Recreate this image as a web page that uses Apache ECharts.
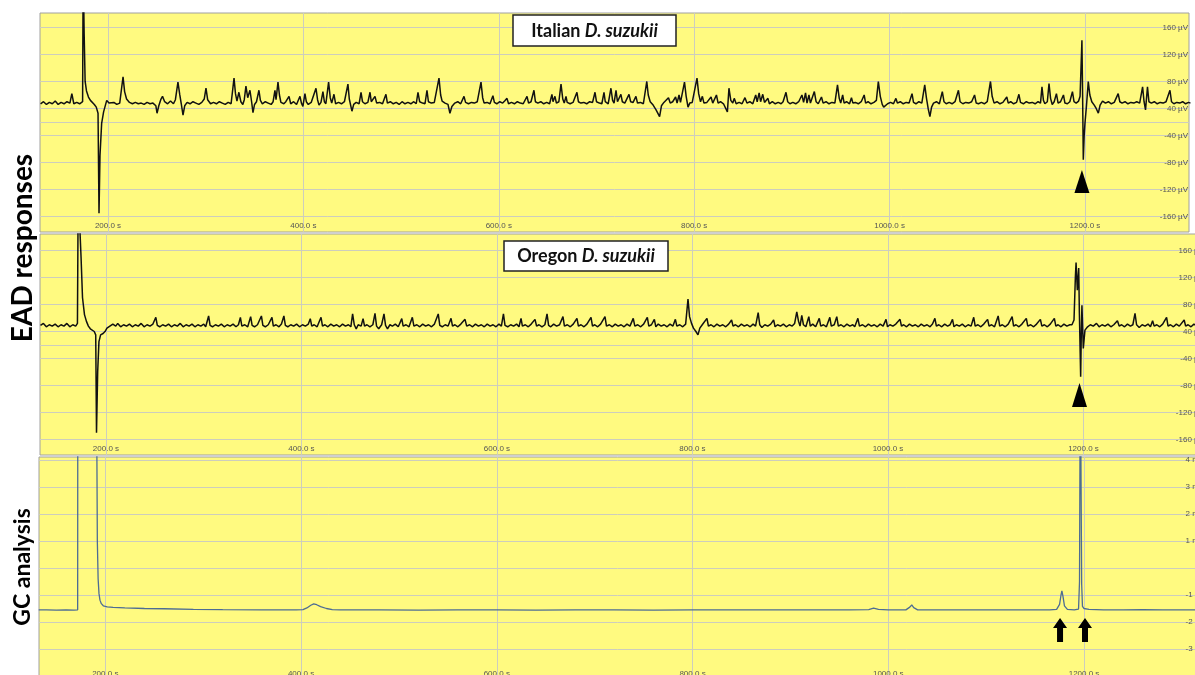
<!DOCTYPE html>
<html>
<head>
<meta charset="utf-8">
<script src="https://cdn.jsdelivr.net/npm/echarts@6.0.0/dist/echarts.min.js"></script>
<style>
html,body{margin:0;padding:0;background:#fff;}
#chart{width:1195px;height:675px;}
</style>
</head>
<body>
<div id="chart"></div>
<script>
// ---- data (time in s, EAD signal in display µV units, GC in mV) ----
const timeTicks = [200, 400, 600, 800, 1000, 1200];
const eadGridValues = [-120, -80, -40, 0, 20, 40, 80, 120, 160];
const eadLabelValues = [-120, -80, -40, 0, 40, 80, 120, 160];
const gcGridValues = [-3, -2, -1, 0, 1, 2, 3, 4];
const gcLabelValues = [-3, -2, -1, 1, 2, 3, 4];

const italianTrace = [[131,47],[134,50],[137,46],[140,49],[143,47],[146,51],[149,46],[152,49],[155,47],[158,50],[161,48],[163,62],[165,47],[168,49],[171,47],[174,50],[174.6,250],[175.6,150],[176.6,80],[178,66],[180,57],[182,52],[184,50],[186,46],[188,42],[189.8,33],[190.8,-115],[191.8,-30],[193.5,18],[195.5,35],[198.7,52],[201,48],[203,47],[206,49],[209,46],[212,48],[214,50],[215.4,87],[217,65],[219,54],[222,49],[225,47],[228,49],[231,47],[234,48],[237,46],[240,49],[243,47],[246,48],[249,44],[250.2,33],[252,44],[254,53],[255.8,58],[258,50],[261,47],[264,51],[267,47],[269,53],[271.6,79],[273.5,60],[275,47],[276.8,30],[278.5,44],[281,49],[284,47],[287,50],[290,48],[293,46],[296,49],[298.5,54],[300.3,70],[302,53],[305,47],[308,49],[311,47],[314,50],[317,48],[320,46],[323,49],[326,47],[329,85],[330.5,62],[332,51],[334,64],[336,50],[338,46],[339.5,53],[341.2,73],[343,56],[345.3,67],[347,50],[348.4,34],[350,46],[352,50],[354.5,67],[356,52],[358,47],[361,50],[364,48],[367,46],[369,50],[370.9,67],[372,53],[374,79],[375.5,60],[377,49],[380,47],[382,50],[385.3,58],[387,47],[390,50],[393,46],[396.5,58],[398,48],[399.5,43],[401.6,62],[403,50],[405,46],[408,49],[410,47],[412.9,70],[414.5,53],[416,45],[418,49],[420,65],[421.5,50],[423,47],[425.8,79],[427.5,56],[429,48],[431.3,61],[433,47],[436,49],[439,47],[442,50],[445.6,76],[447,54],[449.7,36],[451.5,46],[454,49],[457,47],[459,64],[460.5,50],[463,47],[466,49],[468.2,64],[469.5,50],[471,48],[473.3,58],[475,48],[478,49],[481,47],[484.5,61],[486,48],[489,50],[492,47],[495,49],[498,46],[501,50],[504,47],[507,49],[510,47],[513,50],[515.5,47],[517.3,64],[519,50],[522,48],[524.5,47],[526.5,67],[528,50],[531,48],[534,49],[536,50],[538.8,85],[540.5,60],[542,51],[545,48],[548,46],[550,33],[552,43],[555,48],[558,50],[561,47],[564.4,58],[566,49],[569,47],[572,49],[575,48],[578,50],[580,49],[581.8,79],[583.5,56],[585,48],[588,49],[591,47],[594,59],[595.5,49],[598,47],[601,50],[604,48],[606,51],[608.4,55],[610,47],[613,49],[616,47],[619,50],[622,48],[625,47],[628.9,58],[630.5,48],[633,50],[636,67],[637.5,50],[640,48],[643,50],[646,47],[649,49],[652,47],[654.4,61],[655.5,50],[657.5,58],[659,48],[661.5,50],[663.7,76],[665.5,54],[667,48],[668.8,58],[670,49],[673,47],[676,49],[678,48],[680,64],[681.5,50],[684,48],[687,49],[690,47],[693,50],[696,49],[698.5,64],[700,50],[703,48],[705.5,47],[707.7,64],[709,50],[712,47],[714.8,70],[716.5,52],[718,48],[720,67],[721.5,50],[723,49],[725,61],[726.5,50],[729,48],[731,50],[733.3,61],[735,50],[737.5,49],[740.4,58],[742,48],[745,49],[748,47],[751.5,80],[753,60],[755,50],[758,45],[761,38],[764.6,28],[766.5,44],[769,49],[771,47],[773.7,56],[775.5,48],[778,50],[781,57],[782.5,48],[784.5,60],[786,49],[788,47],[790.1,79],[791.8,58],[793.7,42],[795.5,48],[798,49],[800,47],[802.9,85],[804.6,62],[806.5,50],[808.4,58],[810,48],[813,49],[815,47],[817.3,57],[819,48],[822.8,60],[824.5,48],[827,50],[830,47],[832,49],[834,35],[835.6,70],[837.5,52],[839.5,48],[841,55],[843,47],[846,49],[849,47],[852,56],[854,48],[857,50],[860,47],[863,60],[864.5,50],[866.5,63],[868,50],[870.2,61],[872,49],[875.5,55],[877,47],[880,50],[883,47],[886,49],[889,47],[891,50],[894,64],[895.7,50],[898,47],[901,49],[904,47],[907,50],[910.3,60],[912,49],[914,63],[915.5,48],[917.5,60],[919,48],[921,47],[923,65],[924.8,50],[927,47],[930.3,57],[932,48],[935,50],[938,47],[941,49],[944,48],[946.7,75],[948.5,55],[950,48],[952,60],[953.5,48],[956,50],[959,47],[961,56],[962.5,48],[965,49],[968,47],[971,50],[974,60],[975.5,48],[978,50],[981,47],[984,49],[986.5,52],[988.5,80],[990.5,58],[992.5,46],[994,42],[996,40],[998,47],[1001,49],[1004,47],[1006.5,55],[1008,48],[1011,50],[1014,47],[1017,49],[1020,48],[1023,62],[1024.5,49],[1027,47],[1030,50],[1033,48],[1036,75],[1037.8,55],[1039.5,40],[1041.3,28],[1043,42],[1045,48],[1048,50],[1051,47],[1054,65],[1055.7,50],[1058,47],[1061,49],[1064,47],[1067,50],[1070.5,67],[1072.2,50],[1075,47],[1078,49],[1081,48],[1084,50],[1087,60],[1088.7,48],[1091,47],[1094,49],[1097,47],[1100,50],[1103.3,80],[1105,58],[1107,48],[1110,50],[1113,47],[1116,49],[1120,57],[1121.5,48],[1124,50],[1127,47],[1130,49],[1132.4,61],[1134,49],[1137,47],[1140,50],[1143,48],[1146,49],[1149,47],[1152,50],[1154.5,48],[1156,72],[1157.5,52],[1159,47],[1161.5,50],[1163.2,77],[1164.8,55],[1166.5,46],[1168.5,50],[1170.8,62],[1172.5,48],[1175,50],[1178,60],[1179.5,48],[1182,47],[1184.5,50],[1187.2,65],[1188.8,50],[1191,48],[1193.5,51],[1195,58],[1196.9,141],[1197.6,60],[1198.3,-36],[1199.2,0],[1200,18],[1201.5,43],[1203.4,80],[1205,60],[1207,50],[1209.5,45],[1211.5,40],[1213.7,33],[1215.5,45],[1218,51],[1221,48],[1224,50],[1227,47],[1230,49],[1234,62],[1235.7,50],[1238,48],[1241,50],[1244,47],[1247,49],[1250,48],[1253,50],[1256,48],[1259,72],[1260.5,50],[1262,38],[1264,72],[1265.5,50],[1268,48],[1271,50],[1274,47],[1277,49],[1280,48],[1283,50],[1287,67],[1288.6,50],[1291,47],[1294,49],[1297,48],[1300,50],[1303,47],[1306,49],[1308,48]];

const oregonTrace = [[133,49],[136,52],[139,47],[142,50],[145,48],[148,51],[151,47],[154,50],[157,48],[160,52],[163,47],[166,50],[169,48],[170.8,52],[171.6,250],[173.4,250],[174.5,150],[176,90],[178,65],[180,55],[182,48],[184,44],[186,42],[188,40],[189.5,35],[190.3,-110],[191.5,-20],[192.8,25],[194.5,35],[197,37],[199,40],[201,45],[204,48],[207,51],[210,48],[212,52],[215,47],[218,50],[221,48],[224,51],[227,47],[230,50],[233,48],[236,52],[239,47],[242,50],[245,48],[248,51],[251,61],[252.5,49],[255,47],[258,50],[261,48],[264,51],[267,47],[270,50],[273,48],[276,52],[279,47],[282,50],[285,48],[288,51],[291,47],[294,50],[297,48],[300,51],[302,47],[305,63],[306.5,49],[309,47],[312,50],[315,48],[318,51],[321,47],[324,50],[327,48],[330,51],[333,47],[335.5,50],[337.5,61],[339,48],[342,50],[345,47],[348,62],[349.5,49],[352,47],[355,50],[357,48],[359,63],[360.5,49],[363,47],[366,50],[369.8,61],[371.2,48],[374,50],[377,47],[379.5,51],[382,63],[383.5,49],[386,47],[389,50],[392,48],[395,51],[398,47],[401,50],[404,48],[407,51],[409,59],[410.5,48],[413,50],[416,47],[420,61],[421.5,48],[424,50],[427,47],[430,51],[433,48],[436,50],[439,47],[442,51],[445,48],[448,50],[450.5,47],[452.3,66],[454,50],[456,44],[458,50],[461,48],[463,59],[464.5,48],[467,50],[470,47],[473,50],[475.2,67],[476.8,48],[479,44],[482,50],[484.4,66],[486,49],[488,44],[490.5,50],[493,48],[496,51],[499,47],[502.6,59],[504,48],[507,50],[510,47],[513.4,61],[515,48],[518,50],[521,47],[524,51],[527,48],[530,50],[533,47],[536,51],[539.9,66],[541.5,49],[544,47],[547,50],[550,48],[553,59.5],[554.5,48],[557,50],[560,47],[563,51],[567.3,58],[569,48],[572,50],[575,47],[578,51],[581,48],[584,50],[587,47],[590,51],[593,48],[596,50],[599,47],[602,51],[604.5,48],[606.6,66],[608.2,49],[611,47],[614,50],[617,48],[620,51],[622.5,47],[624.6,59.5],[626,48],[629,50],[632,47],[635,51],[638.9,58],[640.5,48],[643,50],[646,47],[649,50],[651.2,66],[652.8,49],[655,47],[658,51],[661,48],[664,50],[667.5,62],[669,48],[672,50],[675,47],[678,51],[681.8,59.5],[683.3,48],[686,50],[689,47],[692,51],[696.2,61],[697.7,48],[700,50],[703,47],[706,51],[710.5,62],[712,48],[715,50],[718,47],[721,51],[724,48],[727,50],[730,47],[733,51],[736,48],[739.4,59.5],[741,48],[744,50],[747,47],[750,51],[753.8,61],[755.3,48],[758,50],[761,58],[762.5,47],[765,51],[768,48],[771,50],[774,47],[777,51],[780,48],[782.5,58],[784,48],[787,50],[790,47],[793,51],[795.4,88],[797,62],[799,52],[801,45],[803.5,40],[805.6,35],[807.5,45],[810,50],[812,48],[814.8,59.5],[816.3,48],[819,50],[822,47],[825,51],[828,48],[831,50],[834,47],[837,51],[840,57],[841.5,48],[844,50],[847,47],[850,51],[853,48],[856,50],[859,47],[862,51],[864.5,48],[867.2,68],[868.8,50],[871,46],[874,50],[877,48],[880,51],[883,57],[884.5,47],[887,50],[890,48],[893,51],[896,47],[899,50],[902,48],[904.5,52],[906.7,69],[908.5,55],[910,48],[911.8,64],[913.5,50],[916,47],[919,62],[920.5,48],[923,51],[926,47],[929.7,59.5],[931.2,48],[934,50],[937,47],[940.5,61],[942,48],[945,50],[947.6,62],[949.2,48],[952,50],[955,47],[958,51],[961,48],[964,50],[966,47],[969.2,59.5],[970.8,48],[974,50],[977,47],[980,51],[983,48],[986,50],[989,47],[992,51],[995,48],[998,58],[999.5,47],[1002,50],[1005,48],[1008,51],[1012.3,58],[1013.8,48],[1016,50],[1019,47],[1022,51],[1025,48],[1028,50],[1031,47],[1034,51],[1037,48],[1040,50],[1043,47],[1045.5,51],[1048,59.5],[1049.5,48],[1052,50],[1055,47],[1058,51],[1061,48],[1063.5,50],[1066,58],[1067.5,47],[1070,50],[1073,48],[1076,51],[1079,47],[1082,50],[1085,48],[1087.7,61],[1089.2,48],[1092,50],[1095,47],[1098,51],[1101.9,58],[1103.4,48],[1106,50],[1109,47],[1112.7,63],[1114.3,48],[1117,50],[1120,47],[1123,51],[1127,62],[1128.5,48],[1131,50],[1134,47],[1137,51],[1141.5,59.5],[1143,48],[1146,50],[1149,47],[1152,51],[1155.9,58],[1157.4,48],[1160,50],[1163,47],[1166,51],[1170.2,59.5],[1171.7,48],[1174,50],[1177,47],[1180,51],[1183,48],[1186,50],[1188.2,50],[1190.3,57],[1191.7,121],[1192.4,142],[1193.7,101],[1195.1,134],[1195.8,67],[1197.1,-27],[1197.8,42],[1198.4,79],[1199.8,15],[1201.5,42],[1204.2,47],[1207,50],[1210,48],[1213.3,52],[1216,47],[1219,50],[1222,48],[1225,51],[1228,47],[1231,50],[1234.7,56],[1236.5,48],[1239,50],[1242,47],[1245,51],[1248,48],[1250.5,50],[1252.7,67],[1254.3,50],[1257,46],[1260,50],[1263,48],[1266,51],[1268.5,47],[1270.7,56],[1272.3,48],[1275,50],[1278,47],[1281,51],[1285,61],[1286.5,48],[1289,50],[1292,47],[1295,51],[1298,48],[1300,50],[1303,57],[1304.5,48],[1307,50],[1310,47],[1313,51],[1316,48],[1320,50],[1325,49]];

const gcTrace = [[132,-1.55],[140,-1.55],[150,-1.56],[160,-1.55],[168,-1.56],[171.8,-1.55],[172.3,30],[190.9,30],[191.4,4.5],[191.9,1.0],[192.7,-0.4],[193.6,-0.95],[194.6,-1.19],[196,-1.32],[198,-1.4],[202,-1.44],[208,-1.46],[220,-1.48],[240,-1.5],[260,-1.51],[290,-1.53],[320,-1.54],[360,-1.55],[395,-1.55],[402,-1.54],[406,-1.48],[410,-1.38],[413,-1.33],[416,-1.36],[420,-1.43],[426,-1.5],[432,-1.54],[440,-1.55],[480,-1.55],[520,-1.56],[560,-1.55],[600,-1.55],[640,-1.56],[680,-1.55],[720,-1.55],[760,-1.56],[800,-1.55],[840,-1.55],[880,-1.55],[920,-1.55],[960,-1.55],[980,-1.54],[985,-1.49],[990,-1.53],[1000,-1.55],[1018,-1.55],[1022,-1.45],[1024,-1.37],[1026,-1.47],[1030,-1.55],[1060,-1.55],[1100,-1.55],[1140,-1.55],[1165,-1.55],[1172,-1.53],[1175,-1.35],[1176.5,-1.0],[1177.4,-0.85],[1178.5,-1.05],[1180,-1.4],[1183,-1.53],[1190,-1.55],[1194.4,-1.52],[1195.4,-0.5],[1196.2,8],[1196.9,8],[1197.6,-0.6],[1198.4,-1.42],[1200,-1.5],[1205,-1.53],[1220,-1.55],[1240,-1.55],[1260,-1.54],[1280,-1.55],[1300,-1.55],[1325,-1.55]];

const italianMarks = [[1196.9, -68]];
const oregonMarks = [[1195.9, -54]];
const gcMarks = [[1175.5, -2.3], [1201.0, -2.3]];

// ---- styles ----
const panelYellow = '#fffa80';
const gridGrey = '#cdcdbd';
const labelGrey = '#555';
const labelFont = 'Liberation Sans';

function xAxisFor(gi, min, max) {
  return {
    gridIndex: gi, type: 'value', min: min, max: max,
    axisLine: {show: false},
    axisTick: {show: false, customValues: timeTicks},
    axisLabel: {inside: true, customValues: timeTicks, margin: 2, fontSize: 8, color: labelGrey, fontFamily: labelFont,
      formatter: v => v.toFixed(1) + ' s'},
    splitLine: {show: true, lineStyle: {color: gridGrey, width: 1}}
  };
}
function eadLabel(v) { return (v >= 40 ? v : v - 40) + ' µV'; }

const gridBase = {show: true, backgroundColor: panelYellow, borderColor: '#a0a0a0', borderWidth: 1, containLabel: false, outerBoundsMode: 'none'};

const option = {
  animation: false,
  backgroundColor: '#ffffff',
  grid: [
    Object.assign({left: 40, top: 13, width: 1149, height: 219}, gridBase),
    Object.assign({left: 40, top: 234, width: 1165, height: 221}, gridBase),
    Object.assign({left: 39, top: 457, width: 1166, height: 223}, gridBase)
  ],
  xAxis: [
    xAxisFor(0, 130.4, 1306.5),
    xAxisFor(1, 132.5, 1324.3),
    xAxisFor(2, 132.3, 1323.6)
  ],
  yAxis: [
    {gridIndex: 0, type: 'value', position: 'right', min: -142.9, max: 181.4,
      axisLine: {show: false}, axisTick: {show: false, customValues: eadGridValues},
      axisLabel: {inside: true, customValues: eadLabelValues, margin: 1, fontSize: 8, color: labelGrey, fontFamily: labelFont, formatter: eadLabel},
      splitLine: {show: true, lineStyle: {color: gridGrey, width: 1}}},
    {gridIndex: 1, type: 'value', position: 'right', min: -142.9, max: 184.4,
      axisLine: {show: false}, axisTick: {show: false, customValues: eadGridValues},
      axisLabel: {inside: true, customValues: eadLabelValues, margin: 1, fontSize: 8, color: labelGrey, fontFamily: labelFont, formatter: eadLabel},
      splitLine: {show: true, lineStyle: {color: gridGrey, width: 1}}},
    {gridIndex: 2, type: 'value', position: 'right', min: -4.148, max: 4.111,
      axisLine: {show: false}, axisTick: {show: false, customValues: gcGridValues},
      axisLabel: {inside: true, customValues: gcLabelValues, margin: 19.5, align: 'left', fontSize: 8, color: labelGrey, fontFamily: labelFont,
        formatter: v => v + ' mV'},
      splitLine: {show: true, lineStyle: {color: gridGrey, width: 1}}}
  ],
  series: [
    {type: 'line', xAxisIndex: 0, yAxisIndex: 0, data: italianTrace, showSymbol: false, symbol: 'none',
      lineStyle: {color: '#111', width: 1.5}, clip: true,
      markPoint: {symbol: 'triangle', symbolSize: [15, 23], itemStyle: {color: '#000'}, label: {show: false},
        data: italianMarks.map(c => ({coord: c}))}},
    {type: 'line', xAxisIndex: 1, yAxisIndex: 1, data: oregonTrace, showSymbol: false, symbol: 'none',
      lineStyle: {color: '#111', width: 1.5}, clip: true,
      markPoint: {symbol: 'triangle', symbolSize: [15, 24], itemStyle: {color: '#000'}, label: {show: false},
        data: oregonMarks.map(c => ({coord: c}))}},
    {type: 'line', xAxisIndex: 2, yAxisIndex: 2, data: gcTrace, showSymbol: false, symbol: 'none',
      lineStyle: {color: '#4d6c93', width: 1.3}, clip: true,
      markPoint: {symbol: 'path://M7 0L14 10L10 10L10 24L4 24L4 10L0 10Z', symbolSize: [14, 24], itemStyle: {color: '#000'}, label: {show: false},
        data: gcMarks.map(c => ({coord: c}))}}
  ],
  graphic: [
    {type: 'text', x: 23, y: 248, rotation: Math.PI / 2, z: 100,
      style: {text: 'EAD responses', font: 'bold 28px Lato', fill: '#000', textAlign: 'center', textVerticalAlign: 'middle', align: 'center', verticalAlign: 'middle'}},
    {type: 'text', x: 23, y: 567, rotation: Math.PI / 2, z: 100,
      style: {text: 'GC analysis', font: 'bold 23px Lato', fill: '#000', textAlign: 'center', textVerticalAlign: 'middle', align: 'center', verticalAlign: 'middle'}},
    {type: 'rect', shape: {x: 513, y: 15, width: 163, height: 31}, z: 100, style: {fill: '#fff', stroke: '#222', lineWidth: 1.5}},
    {type: 'text', x: 594.5, y: 31, z: 101,
      style: {text: '{a|Italian }{b|D. suzukii}', textAlign: 'center', textVerticalAlign: 'middle', align: 'center', verticalAlign: 'middle',
        rich: {a: {fontFamily: 'Lato', fontWeight: 'bold', fontSize: 18, fill: '#111'},
               b: {fontFamily: 'Lato', fontWeight: 'bold', fontStyle: 'italic', fontSize: 18, fill: '#111'}}}},
    {type: 'rect', shape: {x: 504, y: 241, width: 164, height: 30}, z: 100, style: {fill: '#fff', stroke: '#222', lineWidth: 1.5}},
    {type: 'text', x: 586, y: 256, z: 101,
      style: {text: '{a|Oregon }{b|D. suzukii}', textAlign: 'center', textVerticalAlign: 'middle', align: 'center', verticalAlign: 'middle',
        rich: {a: {fontFamily: 'Lato', fontWeight: 'bold', fontSize: 18, fill: '#111'},
               b: {fontFamily: 'Lato', fontWeight: 'bold', fontStyle: 'italic', fontSize: 18, fill: '#111'}}}}
  ]
};

const chart = echarts.init(document.getElementById('chart'), null, {renderer: 'canvas'});
chart.setOption(option);
</script>
</body>
</html>
